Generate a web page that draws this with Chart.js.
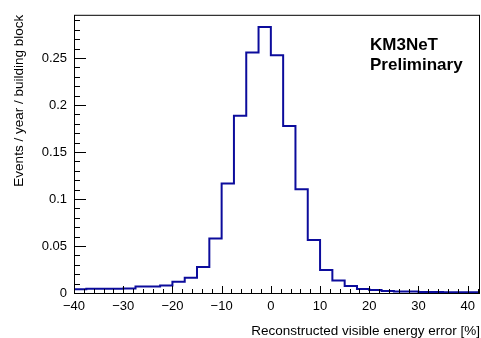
<!DOCTYPE html>
<html>
<head>
<meta charset="utf-8">
<script src="https://cdn.jsdelivr.net/npm/chart.js@4.4.0/dist/chart.umd.min.js"></script>
<style>
  html, body { margin: 0; padding: 0; background: #fff; }
  #wrap { width: 481px; height: 338px; }
</style>
</head>
<body>
<div id="wrap"><canvas id="mycanvas" width="481" height="338"></canvas></div>
<script>
// bin edges (percent) and contents (events / year / building block)
var binEdges = [-40, -37.5, -35, -32.5, -30, -27.5, -25, -22.5, -20, -17.5, -15, -12.5, -10, -7.5, -5, -2.5,
                0, 2.5, 5, 7.5, 10, 12.5, 15, 17.5, 20, 22.5, 25, 27.5, 30, 32.5, 35, 37.5, 40, 42.5];
var binValues = [0.0040, 0.0044, 0.0045, 0.0046, 0.0049, 0.0068, 0.0070, 0.0080, 0.0120, 0.0162, 0.0276, 0.0580,
                 0.1165, 0.1886, 0.2558, 0.2830, 0.2530, 0.1776, 0.1104, 0.0563, 0.0245, 0.0132, 0.0074, 0.0043,
                 0.0032, 0.0021, 0.0017, 0.0016, 0.0011, 0.0010, 0.0009, 0.0008, 0.0008];
var xTicks = [-40, -30, -20, -10, 0, 10, 20, 30, 40];
var yTicks = [0, 0.05, 0.1, 0.15, 0.2, 0.25];

var points = [];
for (var i = 0; i < binValues.length; i++) {
	points.push({x: binEdges[i], y: binValues[i]});
}
points.push({x: binEdges[binEdges.length - 1], y: binValues[binValues.length - 1]});

var FONT = 'Liberation Sans, Arial, Helvetica, sans-serif';

var rootStyle = {
	id: 'rootStyle',
	afterDraw: function(chart) {
		var ctx = chart.ctx;
		var a = chart.chartArea;
		var xs = chart.scales.x, ys = chart.scales.y;
		ctx.save();
		// frame
		ctx.strokeStyle = '#000';
		ctx.lineWidth = 1;
		ctx.strokeRect(a.left + 0.5, a.top + 0.5, a.right - a.left - 1, a.bottom - a.top);
		// x ticks, pointing into the frame
		ctx.beginPath();
		for (var v = -40; v <= 42.5; v += 2) {
			var px = Math.round(xs.getPixelForValue(v)) + 0.5;
			var len = (v % 10 === 0) ? 7 : 4;
			ctx.moveTo(px, a.bottom);
			ctx.lineTo(px, a.bottom - len);
		}
		// y ticks
		for (var k = 0; k <= 29; k++) {
			var py = Math.round(ys.getPixelForValue(k / 100)) + 0.5;
			var l = (k % 5 === 0) ? 12 : 6;
			ctx.moveTo(a.left, py);
			ctx.lineTo(a.left + l, py);
		}
		ctx.stroke();
		// axis titles
		ctx.fillStyle = '#000';
		ctx.font = '13.5px ' + FONT;
		ctx.textAlign = 'right';
		ctx.textBaseline = 'alphabetic';
		ctx.fillText('Reconstructed visible energy error [%]', 480, 335);
		ctx.save();
		ctx.translate(23, a.top);
		ctx.rotate(-Math.PI / 2);
		ctx.textAlign = 'right';
		ctx.fillText('Events / year / building block', 0, 0);
		ctx.restore();
		// label
		ctx.font = 'bold 17px ' + FONT;
		ctx.textAlign = 'left';
		ctx.fillText('KM3NeT', 370, 50);
		ctx.fillText('Preliminary', 370, 70);
		ctx.restore();
	}
};

var ctx = document.getElementById('mycanvas');
var histChart = new Chart(ctx, {
	type: 'line',
	data: {
		datasets: [{
			data: points,
			stepped: 'before',
			borderColor: '#0c0c9c',
			borderWidth: 2,
			pointRadius: 0,
			fill: false
		}]
	},
	options: {
		responsive: false,
		animation: false,
		layout: {padding: {left: 0, right: 1, top: 14, bottom: 0}},
		plugins: {legend: {display: false}, tooltip: {enabled: false}},
		scales: {
			x: {
				type: 'linear',
				min: -40,
				max: 42.5,
				grid: {display: false, drawTicks: false},
				border: {display: false},
				afterBuildTicks: function(s) { s.ticks = xTicks.map(function(v){ return {value: v}; }); },
				afterFit: function(s) { s.height = 45; },
				ticks: {
					color: '#000',
					padding: 6,
					maxRotation: 0,
					font: {family: FONT, size: 13},
					callback: function(v) { return String(v).replace('-', '\u2212'); }
				}
			},
			y: {
				type: 'linear',
				min: 0,
				max: 0.296,
				grid: {display: false, drawTicks: false},
				border: {display: false},
				afterBuildTicks: function(s) { s.ticks = yTicks.map(function(v){ return {value: v}; }); },
				afterFit: function(s) { s.width = 74; },
				ticks: {
					color: '#000',
					padding: 7,
					font: {family: FONT, size: 13},
					callback: function(v) { return String(v); }
				}
			}
		}
	},
	plugins: [rootStyle]
});
</script>
</body>
</html>
